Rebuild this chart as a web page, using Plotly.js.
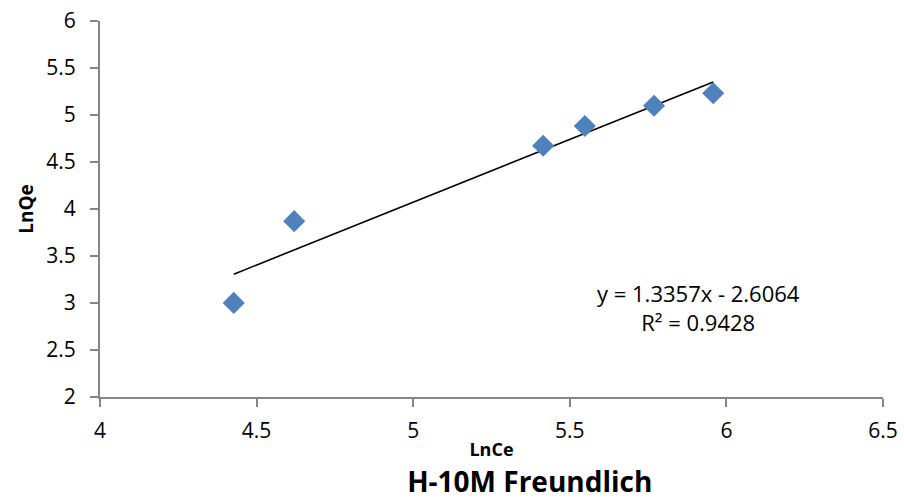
<!DOCTYPE html>
<html>
<head>
<meta charset="utf-8">
<script src="https://cdn.plot.ly/plotly-3.0.1.min.js"></script>
<style>html,body{margin:0;padding:0;background:#fff;}#chart{width:904px;height:502px;}</style>
</head>
<body>
<div id="chart"></div>
<script>
// Data
const lnCe = [4.427, 4.620, 5.415, 5.548, 5.769, 5.958];
const lnQe = [3.001, 3.871, 4.673, 4.883, 5.099, 5.231];
// Trendline coefficients as printed on the chart
const slope = 1.3357;
const intercept = -2.6064;
const rSquared = 0.9428;
const xTicks = [4, 4.5, 5, 5.5, 6, 6.5];
const yTicks = [2, 2.5, 3, 3.5, 4, 4.5, 5, 5.5, 6];

const xMin = Math.min(...lnCe), xMax = Math.max(...lnCe);
const trendX = [xMin, xMax];
const trendY = trendX.map(x => slope * x + intercept);

const font = "'Open Sans', 'Noto Sans', sans-serif";
const axisColor = '#868686';

const data = [
  {
    x: trendX, y: trendY, type: 'scatter', mode: 'lines',
    line: {color: '#000000', width: 1.6}, hoverinfo: 'skip', showlegend: false
  },
  {
    x: lnCe, y: lnQe, type: 'scatter', mode: 'markers',
    marker: {symbol: 'diamond', size: 17, color: '#4F81BD', line: {width: 0}},
    showlegend: false
  }
];

const layout = {
  width: 904, height: 502,
  margin: {l: 100, r: 21, t: 21, b: 105},
  paper_bgcolor: '#ffffff', plot_bgcolor: '#ffffff',
  font: {family: font, color: '#000000', size: 21},
  title: {
    text: '<b>H-10M Freundlich</b>',
    font: {family: font, size: 28, color: '#000000'},
    x: 0.586, xref: 'container', xanchor: 'center',
    y: 0.04, yref: 'container', yanchor: 'middle'
  },
  xaxis: {
    range: [4, 6.5], tickvals: xTicks, ticktext: xTicks.map(String),
    showgrid: false, zeroline: false,
    showline: true, linecolor: axisColor, linewidth: 2,
    ticks: 'outside', ticklen: 8, tickwidth: 2, tickcolor: axisColor,
    ticklabelstandoff: 6,
    tickfont: {family: font, size: 21, color: '#000000'},
    title: {text: '<b>LnCe</b>', font: {family: font, size: 18, color: '#000000'}, standoff: 0}
  },
  yaxis: {
    range: [2, 6], tickvals: yTicks, ticktext: yTicks.map(String),
    showgrid: false, zeroline: false,
    showline: true, linecolor: axisColor, linewidth: 2,
    ticks: 'outside', ticklen: 8, tickwidth: 2, tickcolor: axisColor,
    ticklabelstandoff: 10,
    tickfont: {family: font, size: 21, color: '#000000'},
    title: {text: '<b>LnQe</b>', font: {family: font, size: 19, color: '#000000'}, standoff: 8}
  },
  annotations: [
    {
      xref: 'paper', yref: 'paper', x: 0.765, y: 0.237,
      xanchor: 'center', yanchor: 'middle', showarrow: false,
      text: 'y = ' + slope.toFixed(4) + 'x - ' + Math.abs(intercept).toFixed(4) +
            '<br>R² = ' + rSquared.toFixed(4),
      font: {family: font, size: 22, color: '#000000'}, align: 'center'
    }
  ]
};

Plotly.newPlot('chart', data, layout, {displayModeBar: false, staticPlot: true});
</script>
</body>
</html>
